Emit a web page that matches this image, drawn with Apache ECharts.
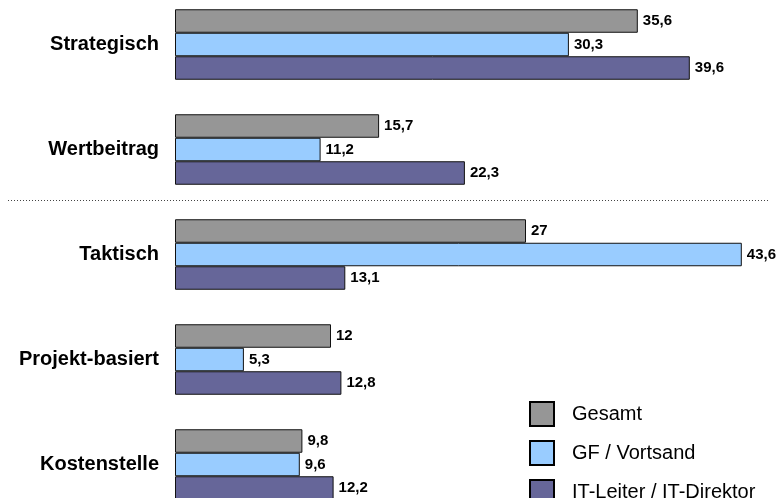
<!DOCTYPE html>
<html>
<head>
<meta charset="utf-8">
<script src="https://cdn.jsdelivr.net/npm/echarts@6/dist/echarts.min.js"></script>
<style>
  html, body { margin: 0; padding: 0; background: #fff; }
  #chart { width: 779px; height: 498px; }
</style>
</head>
<body>
<div id="chart"></div>
<script>
// Categories (top to bottom) and the three respondent groups
const categories = ['Strategisch', 'Wertbeitrag', 'Taktisch', 'Projekt-basiert', 'Kostenstelle'];
const seriesNames = ['Gesamt', 'GF / Vortsand', 'IT-Leiter / IT-Direktor'];
const gesamt = [35.6, 15.7, 27, 12, 9.8];
const gfVorstand = [30.3, 11.2, 43.6, 5.3, 9.6];
const itLeiter = [39.6, 22.3, 13.1, 12.8, 12.2];
const colors = ['#969696', '#99CCFF', '#666699'];

const FONT = "'Liberation Sans', Arial, sans-serif";
const fmt = v => String(v).replace('.', ',');

const chart = echarts.init(document.getElementById('chart'), null, { renderer: 'canvas' });

function makeSeries(name, data, color) {
  return {
    name: name,
    type: 'bar',
    data: data,
    barWidth: 23.5,
    barGap: '0%',
    itemStyle: { color: color, borderColor: '#111', borderWidth: 1 },
    label: {
      show: true,
      position: 'right',
      distance: 5,
      color: '#000',
      fontFamily: FONT,
      fontWeight: 'bold',
      fontSize: 15,
      formatter: p => fmt(p.value)
    },
    emphasis: { disabled: true }
  };
}

chart.setOption({
  animation: false,
  backgroundColor: '#fff',
  grid: { left: 175, top: -8, height: 525, width: 585, outerBoundsMode: 'none', containLabel: false },
  xAxis: {
    type: 'value',
    min: 0,
    max: 45,
    show: false
  },
  yAxis: {
    type: 'category',
    data: categories,
    inverse: true,
    axisTick: { show: false },
    axisLine: { show: false },
    axisLabel: {
      margin: 16,
      color: '#000',
      fontFamily: FONT,
      fontWeight: 'bold',
      fontSize: 20
    },
    splitLine: { show: false }
  },
  legend: {
    orient: 'vertical',
    left: 529,
    top: 401,
    height: 120,
    padding: 0,
    itemWidth: 24,
    itemHeight: 24,
    itemGap: 13,
    icon: 'rect',
    selectedMode: false,
    data: seriesNames,
    itemStyle: { borderColor: '#000', borderWidth: 2 },
    textStyle: {
      fontFamily: FONT,
      fontSize: 20,
      color: '#000',
      padding: [0, 0, 2, 13]
    }
  },
  series: [
    makeSeries(seriesNames[0], gesamt, colors[0]),
    makeSeries(seriesNames[1], gfVorstand, colors[1]),
    makeSeries(seriesNames[2], itLeiter, colors[2])
  ]
});

// Dotted separator between the strategic and the tactical block
const yA = chart.convertToPixel({ yAxisIndex: 0 }, categories[1]);
const yB = chart.convertToPixel({ yAxisIndex: 0 }, categories[2]);
const sepY = Math.round((yA + yB) / 2) - 2 + 0.5;
chart.setOption({
  graphic: [{
    type: 'line',
    silent: true,
    shape: { x1: 8, y1: sepY, x2: chart.getWidth() - 11, y2: sepY },
    style: { stroke: '#444', lineWidth: 1, lineDash: [1, 2] }
  }]
});
</script>
</body>
</html>
